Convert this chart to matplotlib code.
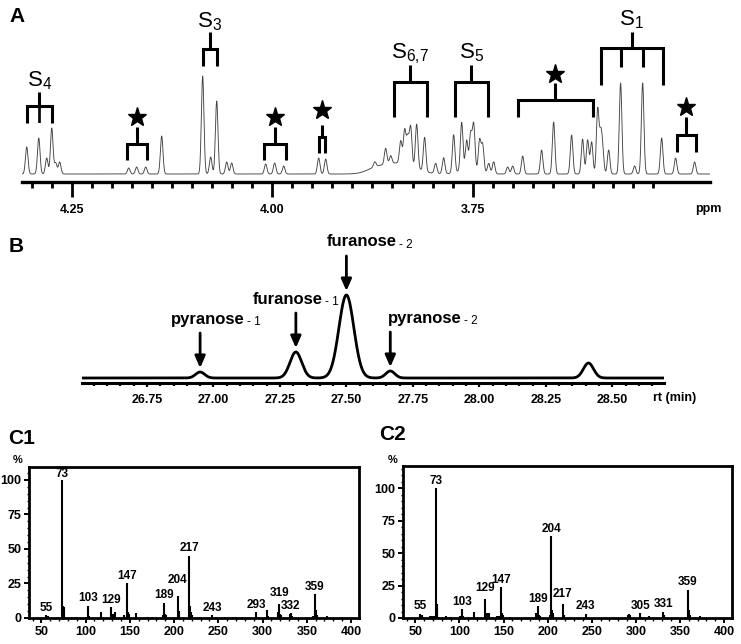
import numpy as np
import matplotlib
matplotlib.use('Agg')
import matplotlib.pyplot as plt
from matplotlib import font_manager

# ---------------- data ----------------
# Panel A: 1H NMR peaks (ppm, height)
nmr_ppm = [4.3061, 4.2911, 4.2812, 4.2749, 4.2700, 4.2650,
           4.1789, 4.1690, 4.1577, 4.1378,
           4.0867, 4.0767, 4.0692, 4.0567, 4.0505,
           4.0081, 3.9969, 3.9857, 3.9420, 3.9333,
           3.8720, 3.8585, 3.8522, 3.8397, 3.8348, 3.8310, 3.8273, 3.8198, 3.8099, 3.7961, 3.7862,
           3.7737, 3.7637, 3.7575, 3.7525, 3.7487, 3.7413, 3.7375, 3.7300, 3.7238,
           3.7063, 3.7001, 3.6876, 3.6640, 3.6490, 3.6266, 3.6129, 3.6066, 3.6016,
           3.5941, 3.5904, 3.5879, 3.5804, 3.5655, 3.5480, 3.5380, 3.5143, 3.4969, 3.4732]
nmr_height = [27, 36, 16, 46, 11, 12,
              6, 7, 7, 38,
              98, 17, 73, 12, 11,
              10, 11, 8, 16, 15,
              5, 16, 8, 22, 33, 26, 38, 44, 34, 10, 16,
              38, 48, 29, 35, 45, 31, 27, 10, 12,
              7, 8, 18, 24, 52, 39, 35, 34, 32,
              64, 36, 22, 24, 91, 8, 91, 36, 16, 12]
nmr_hump_ppm = [3.840, 3.870, 3.754]
nmr_hump_height = [11, 5, 5]
nmr_hump_width = [0.018, 0.012, 0.012]
nmr_baseline = 8
nmr_major = [4.25, 4.00, 3.75]
nmr_tick_labels = ['4.25', '4.00', '3.75']

# Panel B: GC chromatogram peaks
gc_rt = [26.95, 27.31, 27.50, 27.665, 28.41]
gc_height = [6, 26, 83, 7, 15]
gc_width = [0.017, 0.022, 0.028, 0.017, 0.019]
gc_baseline = 5
gc_ticks = [26.75, 27.00, 27.25, 27.50, 27.75, 28.00, 28.25, 28.50]
gc_tick_labels = ['26.75', '27.00', '27.25', '27.50', '27.75', '28.00', '28.25', '28.50']

# Panel C1 / C2: mass spectra (m/z, relative abundance %)
c1_mz = [55, 56, 57, 59, 69, 73, 74, 75, 77, 85, 89, 100, 101, 103, 104, 117, 129, 130, 131, 133,
         143, 145, 147, 148, 149, 157, 169, 175, 187, 189, 190, 191, 204, 205, 206, 217, 218, 219,
         220, 229, 243, 247, 257, 267, 270, 277, 293, 294, 305, 306, 317, 318, 319, 320, 321, 331,
         332, 333, 357, 359, 360, 361, 373, 390]
c1_int = [2, 1.5, 1.5, 0.8, 0.8, 100, 9, 8, 1, 0.8, 1, 1, 1, 9, 1.5, 4.3, 8, 1.5, 3, 4,
          2, 1, 25, 4, 3, 3.6, 1, 0.8, 2, 11, 3, 2, 16, 5, 3, 45, 8.5, 4,
          2, 0.8, 2, 0.8, 0.8, 1, 1, 1, 4.3, 1, 5.5, 1.5, 3, 4, 10, 3, 2, 3,
          3.6, 1.5, 1.5, 17.4, 5.5, 2, 1.7, 1]
c1_labels = [55, 73, 103, 129, 147, 189, 204, 217, 243, 293, 319, 332, 359]

c2_mz = [55, 56, 57, 59, 67, 69, 71, 73, 74, 75, 77, 85, 89, 101, 103, 104, 117, 129, 130, 131,
         133, 143, 145, 147, 148, 149, 157, 187, 189, 190, 191, 203, 204, 205, 206, 217, 218, 219,
         243, 244, 291, 292, 293, 305, 306, 315, 331, 332, 333, 359, 360, 361, 373]
c2_int = [3.3, 2.5, 2.5, 1, 1.5, 1.5, 1.5, 100, 11, 10, 1, 1.3, 1, 1.5, 7, 1.5, 5, 15, 2, 4,
          4, 1.5, 1.5, 23.6, 4, 2, 1, 4, 9, 2, 1.5, 2, 63, 6.5, 4, 10.8, 2, 2,
          3.3, 1, 2.5, 3, 2, 3.8, 1, 1.5, 4.9, 2, 1, 21.8, 6.5, 2, 1.3]
c2_labels = [55, 73, 103, 129, 147, 189, 204, 217, 243, 305, 331, 359]
ms_ticks = [50, 100, 150, 200, 250, 300, 350, 400]
ms_yticks = [0, 25, 50, 75, 100]

# ---------------- figure ----------------
W, H = 741, 644
SANS = 'Liberation Sans'
names = {f.name for f in font_manager.fontManager.ttflist}
NARROW = 'Liberation Sans Narrow' if 'Liberation Sans Narrow' in names else SANS
plt.rcParams['font.family'] = [SANS, 'DejaVu Sans']
plt.rcParams['mathtext.default'] = 'regular'

fig = plt.figure(figsize=(W / 100, H / 100), dpi=100)


def ax_px(l, t, r, b):
    return fig.add_axes([l / W, 1 - b / H, (r - l) / W, (b - t) / H])


def ftext(x, y, s, **kw):
    fig.text(x / W, 1 - y / H, s, **kw)


# ---------------- Panel A ----------------
axA = ax_px(22, 0, 710, 182)
axA.patch.set_visible(False)
xs = np.linspace(4.312, 3.454, 6000)
ys = np.full_like(xs, nmr_baseline, dtype=float)
for p, h in zip(nmr_ppm, nmr_height):
    ys += h * np.exp(-0.5 * ((xs - p) / 0.0016) ** 2)
for p, h, w in zip(nmr_hump_ppm, nmr_hump_height, nmr_hump_width):
    ys += h * np.exp(-0.5 * ((xs - p) / w) ** 2)
axA.plot(xs, ys, color='#444444', lw=0.65)
axA.set_xlim(4.312, 3.454)
axA.set_ylim(0, 182)
for s in ['top', 'left', 'right']:
    axA.spines[s].set_visible(False)
axA.spines['bottom'].set_linewidth(2.4)
axA.set_yticks([])
axA.set_xticks(nmr_major, labels=nmr_tick_labels)
minor = [m for m in np.round(np.arange(3.525, 4.3001, 0.025), 3) if m not in nmr_major]
axA.set_xticks(minor, minor=True)
axA.tick_params(axis='x', which='major', length=11, width=2, pad=5, labelsize=9)
axA.tick_params(axis='x', which='minor', length=4.5, width=2)
for lbl in axA.get_xticklabels():
    lbl.set_fontweight('bold')

brackets = [
    dict(legs=(4.3061, 4.2749), bar=76, bottom=59, top=90, inner=(4.2913, 4.2890), inner_bottom=59,
         inner_lw=1.2, label='S_{4}', label_y=96),
    dict(legs=(4.1814, 4.1565), bar=38, bottom=22, top=55, star=65),
    dict(legs=(4.0867, 4.0692), bar=133, bottom=116, top=150, label='S_{3}', label_y=155),
    dict(legs=(4.0106, 3.9832), bar=38, bottom=22, top=55, star=65),
    dict(legs=(3.9420, 3.9345), bar=45, bottom=29, top=57, star=72),
    dict(legs=(3.8485, 3.8074), bar=100, bottom=65, top=117, label='S_{6{,}7}', label_y=124),
    dict(legs=(3.7724, 3.7313), bar=100, bottom=65, top=117, label='S_{5}', label_y=124),
    dict(legs=(3.6939, 3.6004), bar=82, bottom=65, top=99, star=108),
    dict(legs=(3.5904, 3.5131), bar=134, bottom=97, top=150, inner=(3.5655, 3.5380), inner_bottom=115,
         inner_lw=2.2, label='S_{1}', label_y=157),
    dict(legs=(3.4956, 3.4719), bar=47, bottom=30, top=65, star=75),
]
LW = 2.2
for b in brackets:
    l0, l1 = b['legs']
    axA.plot([l0, l0, l1, l1], [b['bottom'], b['bar'], b['bar'], b['bottom']], color='k', lw=LW,
             solid_joinstyle='miter', solid_capstyle='butt', clip_on=False)
    c = (l0 + l1) / 2
    axA.plot([c, c], [b['bar'], b['top']], color='k', lw=LW, solid_capstyle='butt', clip_on=False)
    for xi in b.get('inner', ()):
        axA.plot([xi, xi], [b['bar'], b['inner_bottom']], color='k', lw=b['inner_lw'],
                 solid_capstyle='butt', clip_on=False)
    if 'star' in b:
        axA.plot([c], [b['star']], marker='*', ms=14, color='k', clip_on=False)
    if 'label' in b:
        axA.text(c, b['label_y'], '$\\mathregular{' + b['label'] + '}$', ha='center', va='baseline',
                 fontsize=16, family=SANS, clip_on=False)

ftext(17, 17, 'A', fontsize=15, fontweight='bold', ha='center', va='center')
ftext(708, 209, 'ppm', fontsize=9, fontweight='bold', ha='center', va='center')

# ---------------- Panel B ----------------
axB = ax_px(82, 230, 664, 383)
axB.patch.set_visible(False)
ts = np.linspace(26.506, 28.694, 4000)
gs = np.full_like(ts, gc_baseline, dtype=float)
for c, h, w in zip(gc_rt, gc_height, gc_width):
    gs += h * np.exp(-0.5 * ((ts - c) / w) ** 2)
axB.plot(ts, gs, color='k', lw=2)
axB.set_xlim(26.506, 28.694)
axB.set_ylim(0, 153)
for s in ['top', 'left', 'right']:
    axB.spines[s].set_visible(False)
axB.spines['bottom'].set_linewidth(2.2)
axB.set_yticks([])
axB.set_xticks(gc_ticks, labels=gc_tick_labels)
axB.set_xticks(np.round(np.arange(26.55, 28.66, 0.05), 2), minor=True)
axB.tick_params(axis='x', which='major', length=3, width=1.6, pad=5, labelsize=9)
axB.tick_params(axis='x', which='minor', length=2.5, width=1.6)
for lbl in axB.get_xticklabels():
    lbl.set_fontweight('bold')

# arrows + labels
gc_label_main = ['pyranose', 'furanose', 'furanose', 'pyranose']
gc_label_sub = ['- 1', '- 1', '- 2', '- 2']
gc_label_right_px = [245, 323, 397, 462]
for i in range(4):
    tip = gc_baseline + gc_height[i] + 4
    axB.annotate('', xy=(gc_rt[i], tip), xytext=(gc_rt[i], tip + 35),
                 arrowprops=dict(arrowstyle='-|>,head_length=0.5,head_width=0.22', lw=2, color='k',
                                 shrinkA=0, shrinkB=0, mutation_scale=14))
    ycen = 383 - (tip + 35) - 14
    ftext(gc_label_right_px[i], ycen, gc_label_main[i], fontsize=12, fontweight='bold',
          ha='right', va='center')
    ftext(gc_label_right_px[i] + 2, ycen + 3, gc_label_sub[i], fontsize=8.5, ha='left', va='center')

ftext(16, 247, 'B', fontsize=15, fontweight='bold', ha='center', va='center')
ftext(675, 398, 'rt (min)', fontsize=9, fontweight='bold', ha='center', va='center')


# ---------------- Panel C ----------------
def mass_panel(l, t, r, b, mz, inten, labels, ytop, extra):
    ax = ax_px(l, t, r, b)
    ax.vlines(mz, 0, inten, color='k', lw=1.5)
    ax.set_xlim(36, 409)
    ax.set_ylim(0, ytop)
    for s in ax.spines.values():
        s.set_linewidth(2)
    ax.set_xticks(ms_ticks, labels=[str(v) for v in ms_ticks])
    ax.set_yticks(ms_yticks, labels=[str(v) for v in ms_yticks])
    ax.set_xticks(np.arange(40, 410, 10), minor=True)
    ax.set_yticks(np.arange(0, ytop, 5), minor=True)
    ax.tick_params(which='major', direction='out', length=3.5, width=1.4, labelsize=9, pad=2)
    ax.tick_params(which='minor', direction='out', length=1.8, width=1)
    for lbl in ax.get_xticklabels() + ax.get_yticklabels():
        lbl.set_fontweight('bold')
        lbl.set_family(NARROW)
    lookup = dict(zip(mz, inten))
    for m in labels:
        ax.annotate(str(m), xy=(m, lookup[m]), xytext=(0, 1.0 + extra.get(m, 0)),
                    textcoords='offset points', ha='center', va='bottom', fontsize=8.5,
                    fontweight='bold', family=NARROW, annotation_clip=False)
    return ax


mass_panel(29, 467, 359, 618, c1_mz, c1_int, c1_labels, 109.4, {204: 6, 319: 3, 73: -1})
mass_panel(403, 466, 732, 618, c2_mz, c2_int, c2_labels, 117, {129: 2, 217: 2})

ftext(22, 438, 'C1', fontsize=15, fontweight='bold', ha='center', va='center')
ftext(392, 435, 'C2', fontsize=15, fontweight='bold', ha='center', va='center')
ftext(18, 460, '%', fontsize=8, fontweight='bold', ha='center', va='center')
ftext(393, 460, '%', fontsize=8, fontweight='bold', ha='center', va='center')

fig.savefig('out.png', dpi=100)
